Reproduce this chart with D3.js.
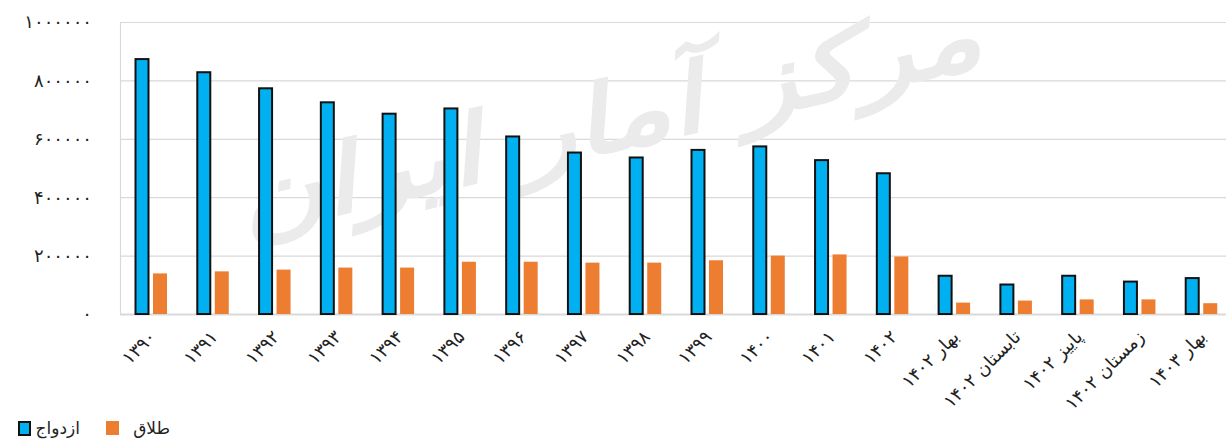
<!DOCTYPE html>
<html>
<head>
<meta charset="utf-8">
<script src="https://cdn.jsdelivr.net/npm/d3@7"></script>
<style>
  body { margin: 0; background: #fff; }
  svg { display: block; font-family: "DejaVu Sans", sans-serif; }
</style>
</head>
<body>
<div id="chart"></div>
<script>
// categories (years, then seasons of 1402 and spring 1403)
var categories = ["۱۳۹۰", "۱۳۹۱", "۱۳۹۲", "۱۳۹۳", "۱۳۹۴", "۱۳۹۵", "۱۳۹۶", "۱۳۹۷", "۱۳۹۸", "۱۳۹۹",
    "۱۴۰۰", "۱۴۰۱", "۱۴۰۲", "بهار ۱۴۰۲", "تابستان ۱۴۰۲", "پاییز ۱۴۰۲", "زمستان ۱۴۰۲", "بهار ۱۴۰۳"];

// marriages
var marriage = [873000, 828000, 773000, 725000, 686000, 704000, 608000, 553000, 536000, 562000,
    574000, 527000, 482000, 131000, 101000, 131000, 111000, 123000];

// divorces
var divorce = [139000, 146000, 152000, 159000, 159000, 179000, 179000, 176000, 176000, 184000,
    200000, 204000, 197000, 39000, 46000, 50000, 50000, 37000];

var yTicks = [0, 200000, 400000, 600000, 800000, 1000000];
var seriesNames = ["ازدواج", "طلاق"];

var W = 1226, H = 444;
var margin = {top: 22, left: 120, bottom: 130};
var plotRight = 1232;

var faDigits = function(n) {
    return String(n).replace(/\d/g, function(c) { return "۰۱۲۳۴۵۶۷۸۹"[+c]; });
};

var svg = d3.select("#chart")
    .append("svg")
    .attr("width", W)
    .attr("height", H);

var x = d3.scaleBand()
    .domain(categories)
    .range([margin.left, plotRight]);

var y = d3.scaleLinear()
    .domain([0, 1000000])
    .range([314, margin.top]);

// gridlines
svg.append("g")
    .selectAll("line")
    .data(yTicks)
    .join("line")
    .attr("x1", margin.left)
    .attr("x2", W)
    .attr("y1", function(d) { return y(d) + 0.5; })
    .attr("y2", function(d) { return y(d) + 0.5; })
    .attr("stroke", "#d9d9d9")
    .attr("stroke-width", function(d) { return d === 0 ? 2 : 1.2; });

// left border of plot area
svg.append("line")
    .attr("x1", margin.left + 0.5).attr("x2", margin.left + 0.5)
    .attr("y1", y(1000000)).attr("y2", y(0))
    .attr("stroke", "#d9d9d9")
    .attr("stroke-width", 1.2);

// watermark
svg.append("text")
    .attr("transform", "translate(610,125) rotate(-13)")
    .attr("text-anchor", "middle")
    .attr("dominant-baseline", "middle")
    .attr("font-size", 95)
    .attr("font-style", "italic")
    .attr("font-weight", "bold")
    .attr("fill", "#ebebeb")
    .attr("textLength", 760)
    .attr("lengthAdjust", "spacingAndGlyphs")
    .text("مرکز آمار ایران");

// y axis labels
svg.append("g")
    .selectAll("text")
    .data(yTicks)
    .join("text")
    .attr("x", 92)
    .attr("y", function(d) { return y(d); })
    .attr("dy", "0.35em")
    .attr("text-anchor", "end")
    .attr("font-size", 18)
    .attr("fill", "#222")
    .text(function(d) { return faDigits(d); });

// marriage bars
svg.append("g")
    .selectAll("rect")
    .data(marriage)
    .join("rect")
    .attr("x", function(d, i) { return x(categories[i]) + 15.5; })
    .attr("y", function(d) { return y(d); })
    .attr("width", 13)
    .attr("height", function(d) { return y(0) - y(d); })
    .attr("fill", "#00b0f0")
    .attr("stroke", "#111")
    .attr("stroke-width", 2);

// divorce bars
svg.append("g")
    .selectAll("rect")
    .data(divorce)
    .join("rect")
    .attr("x", function(d, i) { return x(categories[i]) + 33; })
    .attr("y", function(d) { return y(d); })
    .attr("width", 14)
    .attr("height", function(d) { return y(0) - y(d); })
    .attr("fill", "#ed7d31");

// x labels, rotated
svg.append("g")
    .selectAll("text")
    .data(categories)
    .join("text")
    .attr("transform", function(d) {
        return "translate(" + (x(d) + x.bandwidth() / 2 + 6) + ",338) rotate(-45)";
    })
    .attr("text-anchor", "start")
    .attr("direction", "rtl")
    .attr("font-size", 18)
    .attr("fill", "#222")
    .text(function(d) { return d; });

// legend
var legend = svg.append("g");
legend.append("rect")
    .attr("x", 19).attr("y", 422).attr("width", 11).attr("height", 13)
    .attr("fill", "#00b0f0").attr("stroke", "#111").attr("stroke-width", 2);
legend.append("text")
    .attr("x", 80).attr("y", 434)
    .attr("text-anchor", "end")
    .attr("font-size", 17).attr("fill", "#222")
    .text(seriesNames[0]);
legend.append("rect")
    .attr("x", 106).attr("y", 421).attr("width", 13).attr("height", 14)
    .attr("fill", "#ed7d31");
legend.append("text")
    .attr("x", 170).attr("y", 434)
    .attr("text-anchor", "end")
    .attr("font-size", 17).attr("fill", "#222")
    .text(seriesNames[1]);
</script>
</body>
</html>
